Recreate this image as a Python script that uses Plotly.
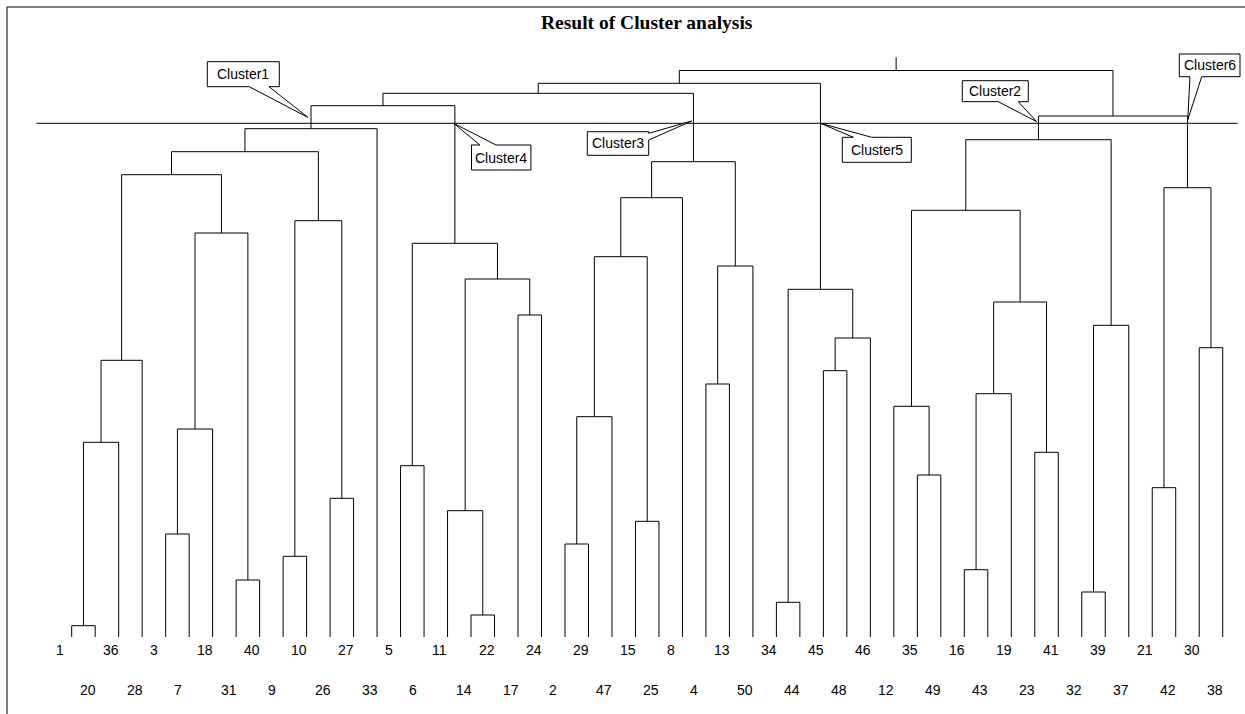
import plotly.graph_objects as go

# ---------------- data ----------------
# leaves in dendrogram order (left to right)
leaf_labels = [1, 20, 36, 28, 3, 7, 18, 31, 40, 9, 10, 26, 27, 33, 5, 6, 11, 14, 22, 17,
               24, 2, 29, 47, 15, 25, 8, 4, 13, 50, 34, 44, 45, 48, 46, 12, 35, 49, 16, 43,
               19, 23, 41, 32, 39, 37, 21, 42, 30, 38]

# merges: "L<n>" = leaf with label n, "M<k>" = k-th merge (1-based)
merge_left = ["L1", "M1", "M2", "L3", "M4", "L31", "M5", "M3", "L9", "L26",
              "M9", "M8", "M12", "L5", "L14", "L11", "L17", "M16", "M14", "M13",
              "L2", "M21", "L15", "M22", "M24", "L4", "M26", "M25", "M20", "L34",
              "L45", "M31", "M30", "M29", "L35", "L12", "L16", "M37", "L23", "M38",
              "M36", "L32", "M42", "M41", "L21", "L30", "M45", "M44", "M34"]
merge_right = ["L20", "L36", "L28", "L7", "L18", "L40", "M6", "M7", "L10", "L27",
               "M10", "M11", "L33", "L6", "L22", "M15", "L24", "M17", "M18", "M19",
               "L29", "L47", "L25", "M23", "L8", "L13", "L50", "M27", "M28", "L44",
               "L48", "L46", "M32", "M33", "L49", "M35", "L43", "L19", "L41", "M39",
               "M40", "L39", "L37", "M43", "L42", "L38", "M46", "M47", "M48"]
merge_height = [1.13, 19.47, 27.67, 10.30, 20.80, 5.70, 40.40, 46.23, 8.07, 13.87,
                41.63, 48.53, 50.83, 17.13, 2.20, 12.63, 32.20, 35.80, 39.37, 53.13,
                9.30, 22.03, 11.57, 38.03, 43.93, 25.30, 37.10, 47.53, 54.37, 3.47,
                26.63, 29.90, 34.77, 55.37, 16.20, 23.07, 6.73, 24.33, 18.47, 33.50,
                42.67, 4.50, 31.17, 49.73, 14.93, 28.93, 44.93, 52.10, 56.65]
root_stem_top = 57.97
cut_height = 51.37

cluster_names = ["Cluster1", "Cluster4", "Cluster3", "Cluster5", "Cluster2", "Cluster6"]
title_text = "Result of Cluster analysis"

# ---------------- layout geometry (pixels) ----------------
W, H = 1245, 714
LEAF0_PX = 71.7      # pixel x of first leaf
LEAF_STEP = 23.49    # pixel spacing of leaves
BASE_PY = 637.0      # pixel y of height 0
PX_PER_UNIT = 10.0   # pixels per height unit


def px2paper(px, py):
    return px / W, 1 - py / H


# callout boxes: (x0, y0, x1, y1), side of wedge, wedge base, tip (pixels)
callout_geom = [
    dict(box=(207.3, 61.7, 279.3, 86.7), side="bottom", base=(249.2, 269.0), tip=(307.8, 117.3)),
    dict(box=(471.5, 145.0, 530.9, 170.0), side="top", base=(480.0, 496.0), tip=(453.7, 123.3)),
    dict(box=(587.3, 131.7, 648.7, 155.3), side="right", base=(133.3, 140.0), tip=(691.7, 121.0)),
    dict(box=(842.3, 137.3, 911.3, 162.3), side="top", base=(853.3, 871.7), tip=(820.5, 123.3)),
    dict(box=(962.3, 80.7, 1028.3, 101.7), side="bottom", base=(998.3, 1018.3), tip=(1036.7, 121.7)),
    dict(box=(1179.3, 54.0, 1240.0, 76.7), side="bottom", base=(1190.0, 1201.7), tip=(1187.7, 120.0)),
]

# ---------------- compute dendrogram ----------------
pos = {}
for i, lab in enumerate(leaf_labels):
    pos["L%d" % lab] = (float(i), 0.0)

xs, ys = [], []
for k, (a, b, h) in enumerate(zip(merge_left, merge_right, merge_height), start=1):
    xa, ha = pos[a]
    xb, hb = pos[b]
    xs += [xa, xa, xb, xb, None]
    ys += [ha, h, h, hb, None]
    pos["M%d" % k] = ((xa + xb) / 2.0, h)

root_x, root_h = pos["M%d" % len(merge_height)]
xs += [root_x, root_x, None]
ys += [root_h, root_stem_top, None]

fig = go.Figure()
fig.add_trace(go.Scatter(x=xs, y=ys, mode="lines",
                         line=dict(color="black", width=1),
                         hoverinfo="skip", showlegend=False))

xr = [(0 - LEAF0_PX) / LEAF_STEP, (W - LEAF0_PX) / LEAF_STEP]
yr = [(BASE_PY - H) / PX_PER_UNIT, BASE_PY / PX_PER_UNIT]

annotations = []
label_font = dict(family="Liberation Sans, Arial, sans-serif", size=14, color="black")
for i, lab in enumerate(leaf_labels):
    annotations.append(dict(
        x=i, y=0, xref="x", yref="y", text=str(lab), showarrow=False,
        xanchor="left", yanchor="middle", xshift=-17.5,
        yshift=-12.5 if i % 2 == 0 else -53.0, font=label_font))

# title
tx, ty = px2paper(646.5, 23.0)
annotations.append(dict(x=tx, y=ty, xref="paper", yref="paper",
                        text="<b>%s</b>" % title_text, showarrow=False,
                        xanchor="center", yanchor="middle",
                        font=dict(family="Liberation Serif, Times New Roman, serif",
                                  size=19.5, color="black")))

shapes = []
# frame
x7, y7 = px2paper(7, 7)
shapes.append(dict(type="line", xref="paper", yref="paper", x0=x7, y0=y7, x1=x7, y1=0,
                   line=dict(color="black", width=1)))
shapes.append(dict(type="line", xref="paper", yref="paper", x0=x7, y0=y7, x1=1, y1=y7,
                   line=dict(color="black", width=1)))
# cut line
shapes.append(dict(type="line", xref="paper", yref="y", x0=36.4 / W, x1=1237.6 / W,
                   y0=cut_height, y1=cut_height, line=dict(color="black", width=1)))

# callouts
for name, g in zip(cluster_names, callout_geom):
    x0, y0, x1, y1 = g["box"]
    a, b = g["base"]
    tpx, tpy = g["tip"]
    pts = [(x0, y0)]
    if g["side"] == "top":
        pts += [(a, y0), (tpx, tpy), (b, y0)]
    pts += [(x1, y0)]
    if g["side"] == "right":
        pts += [(x1, a), (tpx, tpy), (x1, b)]
    pts += [(x1, y1)]
    if g["side"] == "bottom":
        pts += [(b, y1), (tpx, tpy), (a, y1)]
    pts += [(x0, y1)]
    path = ""
    for j, (px, py) in enumerate(pts):
        X, Y = px2paper(px, py)
        path += ("M" if j == 0 else " L") + " %.5f,%.5f" % (X, Y)
    path += " Z"
    shapes.append(dict(type="path", xref="paper", yref="paper", path=path,
                       fillcolor="white", line=dict(color="black", width=1)))
    cx, cy = px2paper((x0 + x1) / 2, (y0 + y1) / 2)
    annotations.append(dict(x=cx, y=cy, xref="paper", yref="paper", text=name,
                            showarrow=False, xanchor="center", yanchor="middle",
                            font=dict(family="Liberation Sans, Arial, sans-serif",
                                      size=14, color="black")))

fig.update_layout(
    width=W, height=H,
    margin=dict(l=0, r=0, t=0, b=0, pad=0),
    paper_bgcolor="white", plot_bgcolor="white",
    xaxis=dict(range=xr, visible=False, fixedrange=True),
    yaxis=dict(range=yr, visible=False, fixedrange=True),
    annotations=annotations, shapes=shapes, showlegend=False,
)

fig.write_html("out.html", config={"displayModeBar": False},
               post_script="document.body.style.margin='0';document.body.style.overflow='hidden';")
